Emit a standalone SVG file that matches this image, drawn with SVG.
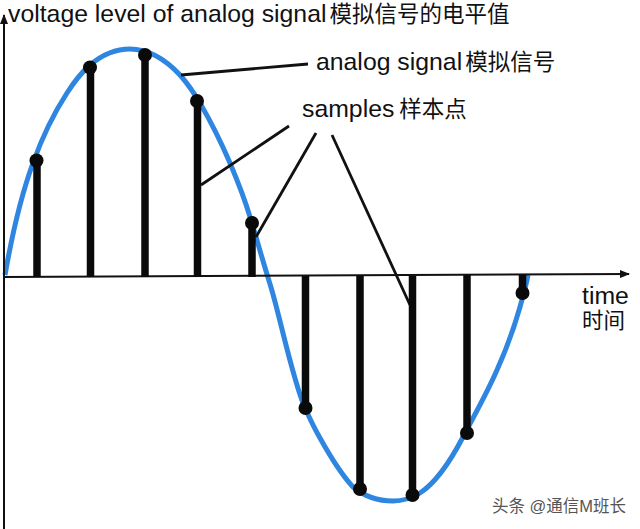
<svg xmlns="http://www.w3.org/2000/svg" width="640" height="529" viewBox="0 0 640 529">
<style>
text{font-family:"Liberation Sans","Noto Sans CJK SC",sans-serif;font-size:24.800px;fill:#111}
.cjk{font-size:22.500px}
.wm{font-size:16.500px;fill:#555}
.axis{stroke:#111;stroke-width:2;fill:none}
.lead{stroke:#111;stroke-width:2.800;fill:none}
.stem{stroke:#0a0a0a;stroke-width:7.500;fill:none}
.dot{fill:#0a0a0a}
.sig{stroke:#2f86e0;stroke-width:5;fill:none}
</style>
<defs>
<marker id="arr" markerWidth="10" markerHeight="8" refX="9" refY="4" orient="auto" markerUnits="userSpaceOnUse"><path d="M0 0L10 4L0 8Z" fill="#111"/></marker>
</defs>
<g id="signal"><path class="sig" d="M5 275C12 235 22 193 33 163C43 135 54 113 67 93C74 82 82 72 90 65C103 54 116 49 130 49C148 49 165 59 180 75C188 84 194 93 200 103C211 122 221 142 230 163C238 182 245 200 250 217C256 236 263 262 270 284C280 316 292 378 305 408C310 419 314 428 320 438C330 456 341 474 353 487C365 497 378 501 393 501C403 501 412 498 420 493C437 482 451 460 463 437C475 414 487 393 497 370C506 350 514 328 520 307C523 296 526 286 528 275"/></g>
<g id="connectors">
<path class="axis" d="M4 529L4 15" marker-end="url(#arr)"/>
<path class="axis" d="M5 277L629 274" marker-end="url(#arr)"/>
<path class="lead" d="M181 75L308 64"/>
<path class="lead" d="M201 185L289 126"/>
<path class="lead" d="M256 237L316 133"/>
<path class="lead" d="M332 135L410 305"/>
</g>
<g id="sample1"><path class="stem" d="M37 277V160"/><circle class="dot" cx="36.500" cy="160.500" r="7"/></g>
<g id="sample2"><path class="stem" d="M90.500 277V67"/><circle class="dot" cx="90" cy="67.500" r="7"/></g>
<g id="sample3"><path class="stem" d="M145 277V55"/><circle class="dot" cx="145" cy="55" r="7"/></g>
<g id="sample4"><path class="stem" d="M197.500 277V101"/><circle class="dot" cx="197" cy="101" r="7"/></g>
<g id="sample5"><path class="stem" d="M252 277V223"/><circle class="dot" cx="252" cy="223" r="7"/></g>
<g id="sample6"><path class="stem" d="M305.500 276V408"/><circle class="dot" cx="305.500" cy="408" r="7"/></g>
<g id="sample7"><path class="stem" d="M360 276V489"/><circle class="dot" cx="360" cy="489" r="7"/></g>
<g id="sample8"><path class="stem" d="M412.500 276V495"/><circle class="dot" cx="412.500" cy="495" r="7"/></g>
<g id="sample9"><path class="stem" d="M467 275V433"/><circle class="dot" cx="467" cy="433" r="7"/></g>
<g id="sample10"><path class="stem" d="M522.500 275V293"/><circle class="dot" cx="522.500" cy="293" r="7"/></g>
<g id="label-title"><text x="8" y="22">voltage level of analog signal<tspan class="cjk" dx="3">模拟信号的电平值</tspan></text></g>
<g id="label-analog"><text x="316" y="70">analog signal<tspan class="cjk" dx="3">模拟信号</tspan></text></g>
<g id="label-samples"><text x="302" y="117">samples<tspan class="cjk" dx="5">样本点</tspan></text></g>
<g id="label-time"><text x="582" y="304">time</text><text class="cjk" x="582" y="328" style="font-size:21.500px">时间</text></g>
<g id="watermark"><text class="wm" x="492" y="512">头条 @通信M班长</text></g>
</svg>
